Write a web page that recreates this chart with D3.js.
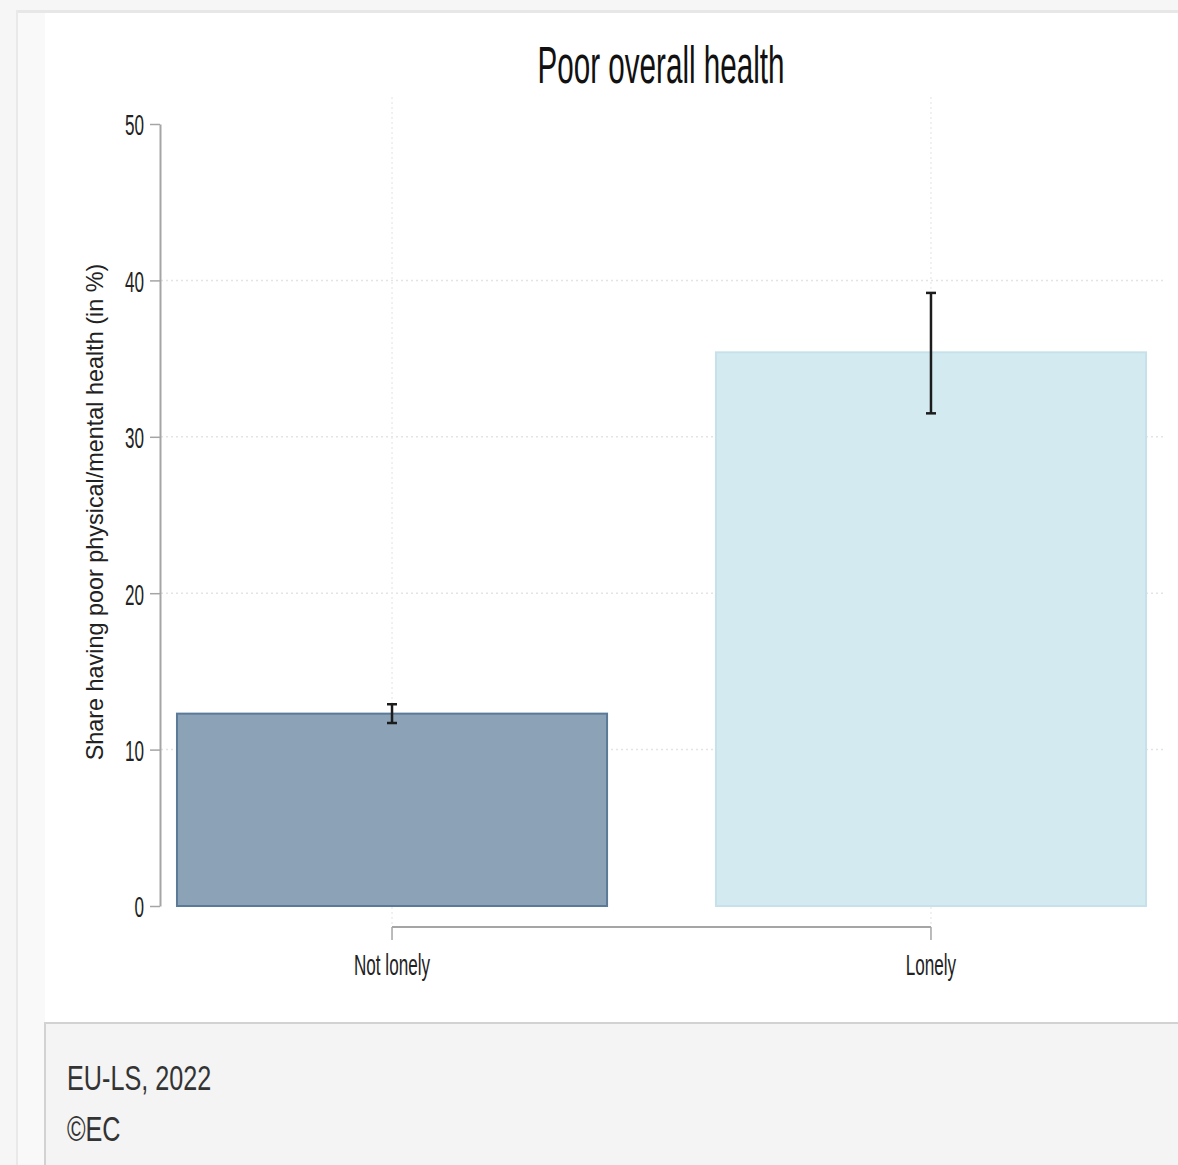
<!DOCTYPE html>
<html>
<head>
<meta charset="utf-8">
<script src="https://cdn.jsdelivr.net/npm/d3@7"></script>
<style>
  html, body { margin: 0; padding: 0; background: #f6f6f6; }
  svg { display: block; }
  text { font-family: "Liberation Sans", Arial, sans-serif; }
</style>
</head>
<body>
<svg id="svg" width="1178" height="1165"></svg>
<script>
const $svg = d3.select('#svg')

const TITLE = 'Poor overall health'
const Y_LABEL = 'Share having poor physical/mental health (in %)'
const categories = ['Not lonely', 'Lonely']
const shares = [12.3, 35.4]
const lowerCI = [11.7, 31.5]
const upperCI = [12.9, 39.2]
const yTicks = [0, 10, 20, 30, 40, 50]
const gridTicks = [10, 20, 30, 40]
const footerLines = ['EU-LS, 2022', '©EC']

const barFills = ['#8ca2b7', '#d4eaf1']
const barStrokes = ['#5b7a98', '#c6e1ea']

// condensed look of the original export
const SQUEEZE = 0.57

// page frame
$svg.append('rect').attr('x', 0).attr('y', 0).attr('width', 1178).attr('height', 1165).attr('fill', '#f6f6f6')
$svg.append('rect').attr('x', 16).attr('y', 10).attr('width', 2).attr('height', 1155).attr('fill', '#e9e9e9')
$svg.append('rect').attr('x', 18).attr('y', 10).attr('width', 1160).attr('height', 3).attr('fill', '#e7e7e7')
$svg.append('rect').attr('x', 18).attr('y', 13).attr('width', 27).attr('height', 1152).attr('fill', '#f9f9f9')
$svg.append('rect').attr('x', 45).attr('y', 13).attr('width', 1133).attr('height', 1010).attr('fill', '#fff')

const y = d3.scaleLinear().domain([0, 50]).range([906, 124])
const x = d3.scaleBand()
	.domain(categories)
	.range([160, 1163])
	.paddingInner(0.202)
	.paddingOuter(0.0315)

const cx = c => x(c) + x.bandwidth() / 2

// grid
const $grid = $svg.append('g')
$grid.selectAll('line.h')
	.data(gridTicks)
	.join('line')
	.attr('x1', 161).attr('x2', 1166)
	.attr('y1', d => y(d)).attr('y2', d => y(d))
	.attr('stroke', '#e4e4e4')
	.attr('stroke-width', 1.5)
	.attr('stroke-dasharray', '2,3')
$grid.selectAll('line.v')
	.data(categories)
	.join('line')
	.attr('x1', cx).attr('x2', cx)
	.attr('y1', 97).attr('y2', 925)
	.attr('stroke', '#ececec')
	.attr('stroke-width', 1.5)
	.attr('stroke-dasharray', '2,3')

// bars
$svg.append('g')
	.selectAll('rect')
	.data(categories)
	.join('rect')
	.attr('x', d => x(d))
	.attr('y', (d, i) => y(shares[i]))
	.attr('width', x.bandwidth())
	.attr('height', (d, i) => y(0) - y(shares[i]))
	.attr('fill', (d, i) => barFills[i])
	.attr('stroke', (d, i) => barStrokes[i])
	.attr('stroke-width', 2)

// error bars
const $err = $svg.append('g').attr('stroke', '#1c1c1c').attr('stroke-width', 2.5)
categories.forEach((c, i) => {
	$err.append('line')
		.attr('x1', cx(c)).attr('x2', cx(c))
		.attr('y1', y(lowerCI[i])).attr('y2', y(upperCI[i]))
	;[lowerCI[i], upperCI[i]].forEach(v => {
		$err.append('line')
			.attr('x1', cx(c) - 5).attr('x2', cx(c) + 5)
			.attr('y1', y(v)).attr('y2', y(v))
	})
})

// y axis
const $yAxis = $svg.append('g')
	.attr('transform', 'translate(160,0)')
	.call(d3.axisLeft(y).tickValues(yTicks).tickSize(10).tickSizeOuter(0))
$yAxis.select('.domain').attr('stroke', '#a5a5a5').attr('stroke-width', 2)
$yAxis.selectAll('.tick line').attr('stroke', '#a5a5a5').attr('stroke-width', 1.5)
$yAxis.selectAll('.tick text')
	.attr('x', 0).attr('dy', '0.36em')
	.attr('transform', `translate(-16,0) scale(${SQUEEZE},1)`)
	.attr('font-size', 30)
	.attr('font-family', '"Liberation Sans", Arial, sans-serif')
	.attr('fill', '#222')

// x axis
const $xAxis = $svg.append('g')
	.attr('transform', 'translate(0,927)')
	.call(d3.axisBottom(x).tickSize(13).tickSizeOuter(0))
$xAxis.select('.domain').remove()
$xAxis.append('line')
	.attr('x1', cx(categories[0])).attr('x2', cx(categories[categories.length - 1]))
	.attr('stroke', '#a5a5a5').attr('stroke-width', 2)
$xAxis.selectAll('.tick line').attr('stroke', '#a5a5a5').attr('stroke-width', 1.5)
$xAxis.selectAll('.tick text')
	.attr('y', 48).attr('dy', 0)
	.attr('transform', `scale(${SQUEEZE},1)`)
	.attr('font-size', 30)
	.attr('font-family', '"Liberation Sans", Arial, sans-serif')
	.attr('fill', '#222')

// title
$svg.append('text')
	.attr('transform', `translate(661,83) scale(${SQUEEZE},1)`)
	.attr('text-anchor', 'middle')
	.attr('font-size', 52)
	.attr('fill', '#111')
	.text(TITLE)

// y label
$svg.append('text')
	.attr('transform', 'translate(103,512) rotate(-90)')
	.attr('text-anchor', 'middle')
	.attr('font-size', 23.4)
	.attr('fill', '#222')
	.text(Y_LABEL)

// footer
$svg.append('rect')
	.attr('x', 45).attr('y', 1023).attr('width', 1140).attr('height', 150)
	.attr('fill', '#f4f4f4').attr('stroke', '#d2d2d2').attr('stroke-width', 2)
$svg.append('g')
	.selectAll('text')
	.data(footerLines)
	.join('text')
	.attr('transform', (d, i) => `translate(67,${1090 + i * 51}) scale(0.7,1)`)
	.attr('font-size', 36)
	.attr('fill', '#333')
	.text(d => d)
</script>
</body>
</html>
